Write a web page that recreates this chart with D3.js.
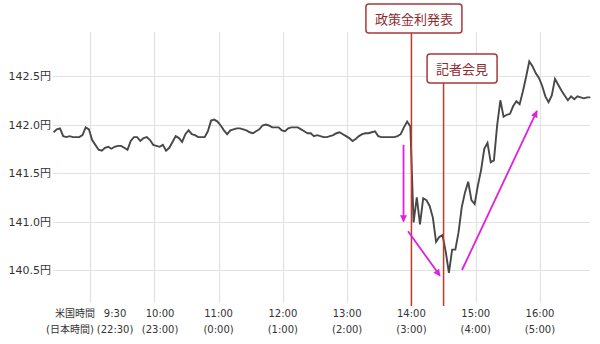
<!DOCTYPE html>
<html><head><meta charset="utf-8">
<script src="https://cdn.jsdelivr.net/npm/d3@7"></script>
<style>
html,body{margin:0;padding:0;background:#fff;}
svg{display:block;font-family:"DejaVu Sans","Noto Sans CJK JP",sans-serif;}
</style></head>
<body><svg id="c" width="600" height="344"></svg>
<script>
// ---- data ----
const yTicks = [140.5, 141.0, 141.5, 142.0, 142.5];
const gridHours = [9, 10, 11, 12, 13, 14, 15, 16];
const usLabels = ["9:30", "10:00", "11:00", "12:00", "13:00", "14:00", "15:00", "16:00"];
const jpLabels = ["(22:30)", "(23:00)", "(0:00)", "(1:00)", "(2:00)", "(3:00)", "(4:00)", "(5:00)"];
const labelHours = [9.39, 10.09, 11, 12, 13, 14, 15, 16];
const startHour = 8 + 26 / 60;     // first sample
const stepMinutes = 3;             // sampling interval
const prices = [
141.92,141.95,141.96,141.88,141.87,141.88,141.87,141.87,141.87,141.89,
141.97,141.95,141.84,141.79,141.74,141.73,141.76,141.77,141.75,141.77,
141.78,141.78,141.76,141.74,141.83,141.87,141.87,141.83,141.86,141.87,
141.84,141.79,141.78,141.77,141.79,141.73,141.76,141.82,141.88,141.86,
141.82,141.90,141.94,141.90,141.89,141.87,141.87,141.87,141.93,142.04,
142.05,142.03,141.99,141.94,141.90,141.94,141.95,141.96,141.96,141.95,
141.94,141.92,141.91,141.93,141.95,141.99,142.00,141.99,141.97,141.97,
141.97,141.94,141.93,141.96,141.97,141.97,141.97,141.95,141.93,141.91,
141.91,141.88,141.89,141.88,141.87,141.87,141.88,141.89,141.91,141.92,
141.90,141.88,141.86,141.83,141.85,141.88,141.90,141.91,141.91,141.92,
141.93,141.88,141.87,141.87,141.87,141.87,141.87,141.88,141.90,141.97,
142.03,141.98,140.99,141.25,140.97,141.24,141.22,141.16,141.04,140.79,
140.84,140.86,140.69,140.47,140.71,140.71,140.89,141.15,141.30,141.41,
141.22,141.18,141.37,141.53,141.75,141.81,141.61,141.63,141.99,142.25,
142.08,142.10,142.11,142.19,142.24,142.21,142.34,142.49,142.65,142.60,
142.53,142.48,142.40,142.29,142.23,142.30,142.47,142.41,142.35,142.30,
142.25,142.29,142.26,142.29,142.28,142.27,142.28,142.28
];
const eventLabels = ["政策金利発表", "記者会見"];
const eventHours = [14, 14.5];
// arrows: [fromHour, fromPrice, toHour, toPrice]
const arrows = [
  [13.877, 141.79, 13.877, 141.00],
  [13.947, 140.90, 14.444, 140.44],
  [14.787, 140.50, 15.953, 142.14]
];

// ---- drawing ----
const svg = d3.select("#c");
const x = d3.scaleLinear().domain([9, 16]).range([90, 540]);
const y = d3.scaleLinear().domain([140.5, 142.5]).range([270, 76]);
const plotLeft = 53, plotRight = 590, gridTop = 32, gridBottom = 303;

// horizontal grid
svg.append("g").selectAll("line").data(yTicks).join("line")
  .attr("x1", plotLeft).attr("x2", plotRight)
  .attr("y1", d => Math.round(y(d)) + 0.5).attr("y2", d => Math.round(y(d)) + 0.5)
  .attr("stroke", "#e2e2e2").attr("stroke-width", 1.2);
// vertical grid
svg.append("g").selectAll("line").data(gridHours).join("line")
  .attr("x1", d => Math.round(x(d)) + 0.5).attr("x2", d => Math.round(x(d)) + 0.5)
  .attr("y1", gridTop).attr("y2", gridBottom)
  .attr("stroke", "#e2e2e2").attr("stroke-width", 1.2);

// y axis labels
const yAxis = d3.axisLeft(y).tickValues(yTicks).tickSize(0).tickPadding(0)
  .tickFormat(d => d.toFixed(1) + "円");
const ga = svg.append("g").attr("transform", "translate(51,0)").call(yAxis);
ga.select(".domain").remove();
ga.selectAll("text").attr("font-size", 11).attr("fill", "#333")
  .attr("font-family", "DejaVu Sans, Noto Sans CJK JP, sans-serif");

// x labels
const gx = svg.append("g").attr("font-size", 10).attr("fill", "#333").attr("text-anchor", "middle");
gx.selectAll("text.us").data(usLabels).join("text").attr("class", "us")
  .attr("x", (d, i) => x(labelHours[i])).attr("y", 317).text(d => d);
gx.selectAll("text.jp").data(jpLabels).join("text").attr("class", "jp")
  .attr("x", (d, i) => x(labelHours[i])).attr("y", 333).text(d => d);
gx.append("text").attr("x", 75).attr("y", 317).text("米国時間");
gx.append("text").attr("x", 70).attr("y", 333).text("(日本時間)");

// price line
const series = prices.map((p, i) => ({h: startHour + i * stepMinutes / 60, p}));
const line = d3.line().x(d => x(d.h)).y(d => y(d.p));
svg.append("path").datum(series).attr("d", line)
  .attr("fill", "none").attr("stroke", "#484848").attr("stroke-width", 1.9)
  .attr("stroke-linejoin", "miter");

// event lines & boxes
const boxTops = [4, 54], boxDx = [2.5, 18.5];
eventLabels.forEach((lab, i) => {
  const ex = x(eventHours[i]);
  const bw = lab.length * 13 + 18, bh = 29;
  svg.append("line").attr("x1", ex).attr("x2", ex)
    .attr("y1", boxTops[i] + bh).attr("y2", 306)
    .attr("stroke", "#c0392b").attr("stroke-width", 1.5);
  const cx = ex + boxDx[i];
  svg.append("rect").attr("x", cx - bw / 2).attr("y", boxTops[i])
    .attr("width", bw).attr("height", bh).attr("rx", 3)
    .attr("fill", "#fff").attr("stroke", "#a8383c").attr("stroke-width", 1.5);
  svg.append("text").attr("x", cx).attr("y", boxTops[i] + bh / 2 + 5)
    .attr("text-anchor", "middle").attr("font-size", 13).attr("fill", "#8e2a2e")
    .text(lab);
});

// arrows
const defs = svg.append("defs");
defs.append("marker").attr("id", "ah").attr("viewBox", "0 0 10 10")
  .attr("refX", 9).attr("refY", 5).attr("markerWidth", 8).attr("markerHeight", 7)
  .attr("markerUnits", "userSpaceOnUse").attr("orient", "auto")
  .append("path").attr("d", "M0,0 L10,5 L0,10 z").attr("fill", "#dd22dd");
svg.append("g").selectAll("line").data(arrows).join("line")
  .attr("x1", d => x(d[0])).attr("y1", d => y(d[1]))
  .attr("x2", d => x(d[2])).attr("y2", d => y(d[3]))
  .attr("stroke", "#dd22dd").attr("stroke-width", 1.8)
  .attr("marker-end", "url(#ah)");
</script></body></html>
